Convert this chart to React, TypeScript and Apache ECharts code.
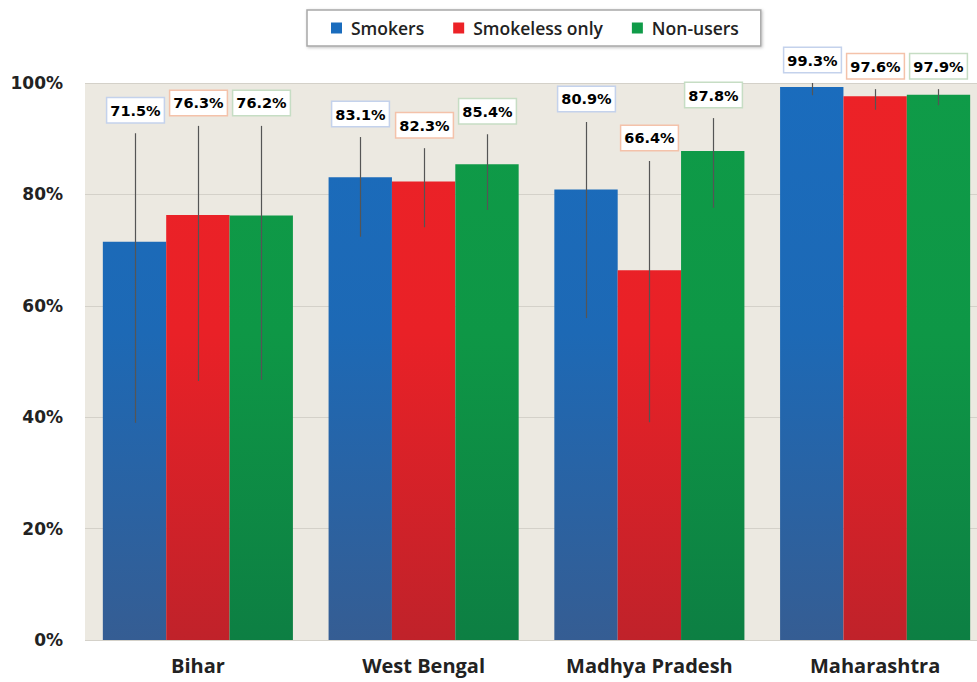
import React, { useEffect, useRef } from "react";
import * as echarts from "echarts";

const categories = ["Bihar", "West Bengal", "Madhya Pradesh", "Maharashtra"];
const seriesNames = ["Smokers", "Smokeless only", "Non-users"];

const smokers = [71.5, 83.1, 80.9, 99.3];
const smokeless = [76.3, 82.3, 66.4, 97.6];
const nonUsers = [76.2, 85.4, 87.8, 97.9];

const smokersLow = [39.0, 72.4, 57.8, 97.8];
const smokersHigh = [91.0, 90.3, 93.0, 100.0];
const smokelessLow = [46.5, 74.1, 39.1, 95.2];
const smokelessHigh = [92.3, 88.3, 86.0, 98.9];
const nonUsersLow = [46.7, 77.2, 77.6, 96.0];
const nonUsersHigh = [92.3, 90.8, 93.7, 98.9];

const yTicks = [0, 20, 40, 60, 80, 100];

const GAP = 0.158;
const GRID_TOP = 83;
const GRID_BOTTOM_Y = 640;

function grad(top: string, mid: string, bottom: string) {
  return new echarts.graphic.LinearGradient(
    0, GRID_TOP, 0, GRID_BOTTOM_Y,
    [
      { offset: 0, color: top },
      { offset: 0.45, color: mid },
      { offset: 1, color: bottom },
    ],
    true
  );
}

function makeErr(idx: number, vals: number[], lows: number[], highs: number[], border: string) {
  return {
    type: "custom",
    name: seriesNames[idx] + " CI",
    z: 5,
    clip: false,
    silent: true,
    data: vals.map((v, i) => [i, v, lows[i], highs[i]]),
    encode: { x: 0, y: [1, 2, 3] },
    renderItem: (params: any, api: any) => {
      const c = api.value(0);
      const center = api.coord([c, 0]);
      const band = api.size([1, 0])[0];
      const barW = (band * (1 - GAP)) / 3;
      const x = Math.round(center[0] + (idx - 1) * barW) + 0.5;
      const yHi = api.coord([c, api.value(3)])[1];
      const yLo = api.coord([c, api.value(2)])[1];
      const v = api.value(1);
      return {
        type: "group",
        children: [
          {
            type: "line",
            shape: { x1: x, y1: yHi, x2: x, y2: yLo },
            style: { stroke: "#555555", lineWidth: 1.2 },
          },
          {
            type: "text",
            x: x,
            y: yHi - 23,
            style: {
              text: `{v|${Number(v).toFixed(1)}}{p|%}`,
              align: "center",
              verticalAlign: "middle",
              backgroundColor: "#ffffff",
              borderColor: border,
              borderWidth: 1.5,
              padding: [5, 3, 4, 3],
              rich: {
                v: {
                  fontFamily: "DejaVu Sans",
                  fontWeight: "bold",
                  fontSize: 14.5,
                  color: "#3a3a3a",
                },
                p: {
                  fontFamily: "DejaVu Sans",
                  fontWeight: "bold",
                  fontSize: 14.5,
                  color: "#8a8a8a",
                },
              },
            },
          },
        ],
      };
    },
  };
}

export default function App() {
  const ref = useRef<HTMLDivElement>(null);
  useEffect(() => {
    if (!ref.current) return;
    const chart = echarts.init(ref.current, undefined, { renderer: "svg" });
    const barBase = {
      type: "bar",
      barGap: "0%",
      barCategoryGap: GAP * 100 + "%",
      z: 2,
    };
    chart.setOption({
      animation: false,
      backgroundColor: "#ffffff",
      legend: {
        data: seriesNames,
        top: 10,
        left: 307,
        icon: "rect",
        itemWidth: 11,
        itemHeight: 11,
        itemGap: 29,
        padding: [9, 22, 9, 24],
        backgroundColor: "#ffffff",
        borderColor: "#a8a8a8",
        borderWidth: 1.5,
        shadowColor: "rgba(0,0,0,0.25)",
        shadowBlur: 3,
        shadowOffsetX: 1,
        shadowOffsetY: 1,
        textStyle: {
          fontFamily: "Open Sans",
          fontWeight: 600,
          fontSize: 17.5,
          color: "#222222",
          padding: [0, 0, 0, 4],
        },
      },
      grid: {
        left: 85,
        width: 903,
        top: GRID_TOP,
        bottom: 682 - GRID_BOTTOM_Y,
        show: true,
        backgroundColor: "#ece9e1",
        borderWidth: 0,
        outerBoundsMode: "none",
      },
      xAxis: {
        type: "category",
        data: categories,
        axisLine: { show: false },
        axisTick: { show: false },
        axisLabel: {
          margin: 15,
          fontFamily: "Open Sans",
          fontWeight: "bold",
          fontSize: 20,
          color: "#222222",
        },
      },
      yAxis: {
        type: "value",
        min: yTicks[0],
        max: yTicks[yTicks.length - 1],
        interval: 20,
        axisLine: { show: false },
        axisTick: { show: false },
        splitLine: { lineStyle: { color: "#d4d1c9", width: 1 } },
        axisLabel: {
          formatter: "{value}%",
          margin: 22,
          fontFamily: "DejaVu Sans",
          fontWeight: "bold",
          fontSize: 17,
          color: "#222222",
        },
      },
      series: [
        {
          ...barBase,
          name: seriesNames[0],
          data: smokers,
          itemStyle: { color: grad("#1a6cbd", "#1d69b5", "#355d93") },
        },
        {
          ...barBase,
          name: seriesNames[1],
          data: smokeless,
          itemStyle: { color: grad("#ec2227", "#e92127", "#c0222a") },
        },
        {
          ...barBase,
          name: seriesNames[2],
          data: nonUsers,
          itemStyle: { color: grad("#0f9b48", "#0e9746", "#0d7f43") },
        },
        makeErr(0, smokers, smokersLow, smokersHigh, "#c4d2ec"),
        makeErr(1, smokeless, smokelessLow, smokelessHigh, "#f4c2aa"),
        makeErr(2, nonUsers, nonUsersLow, nonUsersHigh, "#c6ddc4"),
      ],
    });
    return () => chart.dispose();
  }, []);
  return (
    <div style={{ position: "absolute", left: 0, top: 0, width: 977, height: 682, overflow: "hidden" }}>
      <div ref={ref} style={{ width: 990, height: 682 }} />
    </div>
  );
}
